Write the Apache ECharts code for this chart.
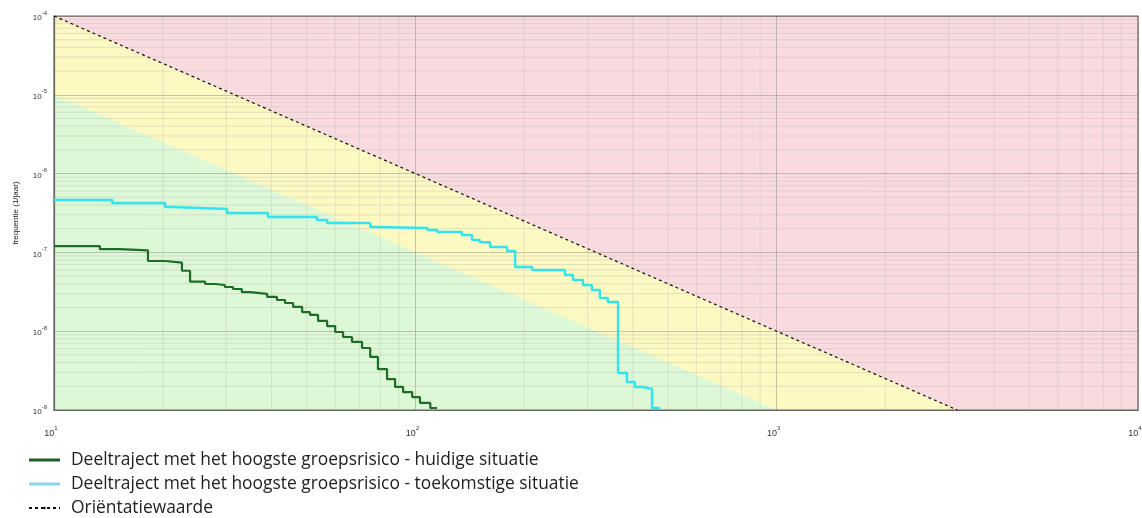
<!DOCTYPE html>
<html>
<head>
<meta charset="utf-8">
<script src="https://cdn.jsdelivr.net/npm/echarts@6/dist/echarts.min.js"></script>
<style>
html,body{margin:0;padding:0;background:#fff;}
#chart{width:1142px;height:518px;}
</style>
</head>
<body>
<div id="chart"></div>
<script>
// ---- data ----
// Huidige situatie (dark green): [N, frequentie] where each level starts
const huidigeN = [10, 13.4, 15.2, 18.2, 20.3, 22.6, 23.8, 26.2, 27.9, 29.7, 31.3, 33.1, 34.9, 38.9, 41.4, 43.6, 45.9, 48.6, 51.1, 53.8, 57.0, 60.0, 63.1, 66.8, 71.2, 75.0, 78.8, 83.5, 87.9, 92.5, 98.0, 103, 110, 114.8];
const huidigeF = [1.20e-7, 1.10e-7, 1.06e-7, 7.78e-8, 7.4e-8, 5.85e-8, 4.25e-8, 3.97e-8, 3.86e-8, 3.64e-8, 3.43e-8, 3.14e-8, 2.97e-8, 2.72e-8, 2.49e-8, 2.28e-8, 2.03e-8, 1.75e-8, 1.61e-8, 1.35e-8, 1.16e-8, 9.77e-9, 8.44e-9, 7.30e-9, 6.12e-9, 4.71e-9, 3.31e-9, 2.47e-9, 1.96e-9, 1.69e-9, 1.46e-9, 1.23e-9, 1.06e-9, 1.06e-9];

// Toekomstige situatie (cyan)
const toekomstN = [10, 14.5, 20.3, 21.3, 30.1, 39.1, 53.4, 57.0, 75.0, 78.4, 108, 114.8, 134.6, 143.5, 151, 161, 179.5, 188.9, 210.5, 259.5, 273, 291, 308, 324, 341, 364, 385, 405, 427, 452, 475];
const toekomstF = [4.62e-7, 4.24e-7, 3.77e-7, 3.56e-7, 3.16e-7, 2.81e-7, 2.58e-7, 2.36e-7, 2.10e-7, 2.04e-7, 1.92e-7, 1.81e-7, 1.66e-7, 1.44e-7, 1.35e-7, 1.17e-7, 1.04e-7, 6.53e-8, 5.98e-8, 5.17e-8, 4.47e-8, 3.86e-8, 3.33e-8, 2.64e-8, 2.35e-8, 2.95e-9, 2.27e-9, 1.96e-9, 1.85e-9, 1.06e-9, 1.06e-9];

// Orientatiewaarde (dashed line) and the 0.1x boundary of the green zone
const orientatieN = [10, 3162.28];
const orientatieF = [1e-4, 1e-9];
const groenGrensN = [10, 1000];
const groenGrensF = [1e-5, 1e-9];

// axis ranges
const xRange = [10, 10000];
const yRange = [1e-9, 1e-4];
const xMinorTicks = [20,30,40,50,60,70,80,90,200,300,400,500,600,700,800,900,2000,3000,4000,5000,6000,7000,8000,9000];
const yMinorTicks = [2e-9,3e-9,4e-9,5e-9,6e-9,7e-9,8e-9,9e-9,2e-8,3e-8,4e-8,5e-8,6e-8,7e-8,8e-8,9e-8,2e-7,3e-7,4e-7,5e-7,6e-7,7e-7,8e-7,9e-7,2e-6,3e-6,4e-6,5e-6,6e-6,7e-6,8e-6,9e-6,2e-5,3e-5,4e-5,5e-5,6e-5,7e-5,8e-5,9e-5];

const serieNames = [
  'Deeltraject met het hoogste groepsrisico - huidige situatie',
  'Deeltraject met het hoogste groepsrisico - toekomstige situatie',
  'Oriëntatiewaarde'
];

function pairs(a, b) { return a.map((v, i) => [v, b[i]]); }

const chart = echarts.init(document.getElementById('chart'), null, {renderer: 'canvas'});

function expLabel(v) {
  const e = Math.round(Math.log10(v));
  return '{b|10}{e|' + e + '}';
}

function renderBackground(params, api) {
  const tl = api.coord([xRange[0], yRange[1]]);
  const br = api.coord([xRange[1], yRange[0]]);
  const children = [];
  // red zone (whole plot)
  children.push({type: 'rect', shape: {x: tl[0], y: tl[1], width: br[0] - tl[0], height: br[1] - tl[1]},
    style: {fill: '#f9dbdf'}});
  // yellow zone
  const yPts = orientatieN.map((n, i) => api.coord([n, orientatieF[i]]));
  yPts.push(api.coord([xRange[0], yRange[0]]));
  children.push({type: 'polygon', shape: {points: yPts}, style: {fill: '#fcf9c3'}});
  // green zone
  const gPts = groenGrensN.map((n, i) => api.coord([n, groenGrensF[i]]));
  gPts.push(api.coord([xRange[0], yRange[0]]));
  children.push({type: 'polygon', shape: {points: gPts}, style: {fill: '#dcf8d6'}});
  // minor grid
  xMinorTicks.forEach(n => {
    const p1 = api.coord([n, yRange[0]]), p2 = api.coord([n, yRange[1]]);
    children.push({type: 'line', shape: {x1: p1[0], y1: p1[1], x2: p2[0], y2: p2[1]},
      style: {stroke: 'rgba(170,170,150,0.25)', lineWidth: 1}});
  });
  yMinorTicks.forEach(f => {
    const p1 = api.coord([xRange[0], f]), p2 = api.coord([xRange[1], f]);
    children.push({type: 'line', shape: {x1: p1[0], y1: p1[1], x2: p2[0], y2: p2[1]},
      style: {stroke: 'rgba(190,190,180,0.40)', lineWidth: 1}});
  });
  return {type: 'group', children: children};
}

const option = {
  animation: false,
  grid: {left: 54, right: 4, top: 16, bottom: 108, containLabel: false, outerBoundsMode: 'none',
    show: true, borderColor: '#666', borderWidth: 1.2, backgroundColor: 'transparent', z: 4},
  xAxis: {
    type: 'log', logBase: 10, min: xRange[0], max: xRange[1], z: 3,
    axisLine: {show: true, lineStyle: {color: '#666', width: 1.2}},
    axisTick: {show: false},
    splitLine: {show: true, lineStyle: {color: 'rgba(130,130,120,0.45)', width: 1}},
    axisLabel: {
      formatter: expLabel, margin: 15, padding: [0, 6, 0, 0],
      rich: {
        b: {fontSize: 9, fontFamily: 'Liberation Sans', color: '#333', lineHeight: 13, verticalAlign: 'bottom'},
        e: {fontSize: 6, fontFamily: 'Liberation Sans', color: '#333', lineHeight: 13, verticalAlign: 'top'}
      }
    }
  },
  yAxis: {
    type: 'log', logBase: 10, min: yRange[0], max: yRange[1], z: 3,
    name: 'frequentie (1/jaar)', nameLocation: 'middle', nameRotate: 90, nameGap: 34,
    nameTextStyle: {fontSize: 8, fontFamily: 'Liberation Sans', color: '#222', padding: [0, 0, 0, 0]},
    axisLine: {show: true, lineStyle: {color: '#666', width: 1.2}},
    axisTick: {show: false},
    splitLine: {show: true, lineStyle: {color: 'rgba(130,130,120,0.45)', width: 1}},
    axisLabel: {
      formatter: expLabel, margin: 7,
      rich: {
        b: {fontSize: 8, fontFamily: 'Liberation Sans', color: '#333', lineHeight: 12, verticalAlign: 'bottom'},
        e: {fontSize: 6, fontFamily: 'Liberation Sans', color: '#333', lineHeight: 12, verticalAlign: 'top'}
      }
    }
  },
  legend: {
    orient: 'vertical', left: 23, top: 445, height: 75, itemGap: 4,
    itemWidth: 31, itemHeight: 3,
    textStyle: {fontFamily: 'Open Sans', fontSize: 17.4, color: '#222', lineHeight: 20, padding: [0, 0, 0, 6]},
    data: [
      {name: serieNames[0], icon: 'rect', itemStyle: {color: '#1f5e2a'}},
      {name: serieNames[1], icon: 'rect', itemStyle: {color: '#86d6e6'}},
      {name: serieNames[2]}
    ]
  },
  series: [
    {
      type: 'custom', name: 'zones', silent: true, z: 1,
      renderItem: renderBackground,
      data: [[xRange[0], yRange[0]]]
    },
    {
      type: 'line', name: serieNames[0], step: 'end', showSymbol: false, symbol: 'none', z: 6,
      data: pairs(huidigeN, huidigeF),
      color: '#1f6b28',
      lineStyle: {color: '#1f6b28', width: 2.2}
    },
    {
      type: 'line', name: serieNames[1], step: 'end', showSymbol: false, symbol: 'none', z: 6,
      data: pairs(toekomstN, toekomstF),
      color: '#33e4ee',
      lineStyle: {color: '#33e4ee', width: 2.5}
    },
    {
      type: 'line', name: serieNames[2], showSymbol: false, symbol: 'none', z: 5,
      data: pairs(orientatieN, orientatieF),
      color: '#111',
      lineStyle: {color: '#111', width: 1.2, type: [3, 3]}
    }
  ]
};
chart.setOption(option);
</script>
</body>
</html>
